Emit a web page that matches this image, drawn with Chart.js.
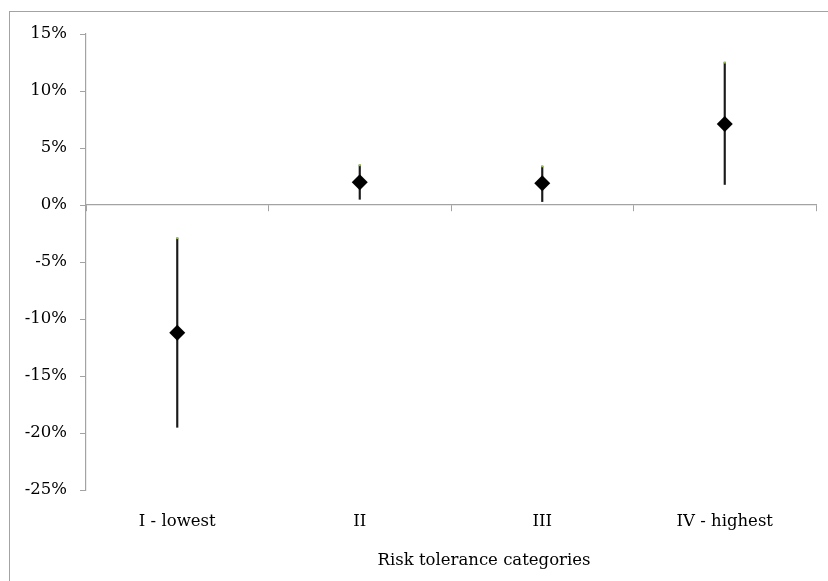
<!DOCTYPE html>
<html>
<head>
<meta charset="utf-8">
<script src="https://cdn.jsdelivr.net/npm/chart.js@4"></script>
<style>
  html, body { margin: 0; padding: 0; background: #fff; }
  #wrap { position: relative; width: 828px; height: 581px; }
  #frame { position: absolute; left: 9px; top: 11px; right: -2px; bottom: -2px;
           border-left: 1.5px solid #a3a3a3; border-top: 1.5px solid #a3a3a3; }
  canvas { position: absolute; left: 0; top: 0; }
</style>
</head>
<body>
<div id="wrap">
  <div id="frame"></div>
  <canvas id="chart" width="828" height="581"></canvas>
</div>
<script>
const categories = ['I - lowest', 'II', 'III', 'IV - highest'];
const means = [-11.2, 2.0, 1.9, 7.1];
const lows = [-19.5, 0.5, 0.3, 1.8];
const highs = [-2.9, 3.5, 3.4, 12.5];
const yTicks = [-25, -20, -15, -10, -5, 0, 5, 10, 15];
const xTitle = 'Risk tolerance categories';

const serif = 'DejaVu Serif';
const axisGray = '#a3a3a3';

// axis title sits a little right of the plot centre, like the original
const xTitlePlugin = {
  id: 'xTitle',
  afterDraw(chart) {
    const { ctx, chartArea } = chart;
    ctx.save();
    ctx.font = '16.5px "' + serif + '"';
    ctx.fillStyle = '#000';
    ctx.textAlign = 'center';
    ctx.textBaseline = 'middle';
    ctx.fillText(xTitle, (chartArea.left + chartArea.right) / 2 + 33, chartArea.bottom + 71);
    ctx.restore();
  }
};

new Chart(document.getElementById('chart'), {
  data: {
    labels: categories,
    datasets: [
      {
        type: 'line',
        label: 'Mean',
        data: means,
        showLine: false,
        pointStyle: 'rectRot',
        pointRadius: 8,
        pointBackgroundColor: '#000',
        pointBorderColor: '#000',
        pointBorderWidth: 0,
        order: 1
      },
      {
        type: 'line',
        label: 'Cap',
        data: highs,
        showLine: false,
        pointStyle: 'rect',
        pointRadius: 1.5,
        pointBackgroundColor: '#9bc65a',
        pointBorderWidth: 0,
        order: 2
      },
      {
        type: 'bar',
        label: 'Range',
        data: lows.map((l, i) => [l, highs[i]]),
        backgroundColor: '#1a1a1a',
        barThickness: 1.5,
        order: 3
      }
    ]
  },
  options: {
    responsive: false,
    animation: false,
    layout: { padding: { left: 0, top: 34, right: 12, bottom: 0 } },
    plugins: { legend: { display: false }, tooltip: { enabled: false } },
    scales: {
      x: {
        type: 'category',
        position: 'bottom',
        grid: { display: false, drawTicks: false },
        border: { display: false },
        ticks: { color: '#000', font: { family: serif, size: 16.5 }, padding: 22 },
        afterFit: s => { s.height = 91; }
      },
      x2: {
        type: 'category',
        position: { y: 0 },
        offset: true,
        grid: { offset: true, drawOnChartArea: false, tickLength: 6, color: axisGray },
        border: { color: axisGray, width: 1.2 },
        ticks: { display: false }
      },
      y: {
        min: -25,
        max: 15,
        afterBuildTicks: s => { s.ticks = yTicks.map(v => ({ value: v })); },
        grid: { drawOnChartArea: false, tickLength: 6, color: axisGray },
        border: { color: axisGray, width: 1.2 },
        ticks: {
          color: '#000',
          font: { family: serif, size: 16.5 },
          padding: 13,
          callback: v => v + '%'
        },
        afterFit: s => { s.width = 86; }
      }
    }
  },
  plugins: [xTitlePlugin]
});
</script>
</body>
</html>
